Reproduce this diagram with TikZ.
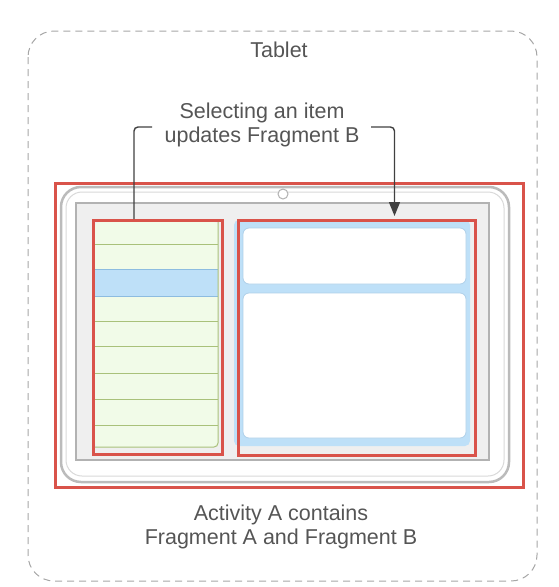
\documentclass[tikz,border=0pt]{standalone}
\usepackage{fontspec}
\setmainfont{Liberation Sans}
\usetikzlibrary{arrows.meta}
\definecolor{txtgray}{HTML}{555555}
\definecolor{redline}{HTML}{D9534A}
\definecolor{listgreen}{HTML}{F1FBE8}
\definecolor{greenline}{HTML}{A9C17A}
\definecolor{selblue}{HTML}{BEE0F8}
\definecolor{blueline}{HTML}{8DBCE0}
\definecolor{screenfill}{HTML}{EFEFEF}
\definecolor{bodyline}{HTML}{BBBBBB}
\tikzset{
  lbl/.style={text=txtgray, font=\fontsize{21.5}{24.5}\selectfont, align=center, inner sep=0pt},
  redbox/.style={draw=redline, line width=3pt},
  conn/.style={draw=black!75, line width=1.4pt, rounded corners=4pt},
}
\begin{document}
\begin{tikzpicture}[x=1pt,y=-1pt]
\useasboundingbox (0,0) rectangle (558,587);
% outer dashed container
\draw[gray!70, dashed, dash pattern=on 7pt off 5pt, line width=1pt, rounded corners=26pt] (28,31) rectangle (537,581);
\node[lbl] (tablet) at (279,50) {Tablet};
% tablet body
\draw[bodyline, fill=white, line width=2.5pt, rounded corners=20pt] (61,187) rectangle (509,482);
\draw[gray!30, line width=1pt, rounded corners=16pt] (66,192) rectangle (504,476);
\node[draw=gray!60, line width=1pt, circle, minimum size=10pt, inner sep=0pt, fill=white] (cam) at (283,194) {};
% screen
\draw[gray!60, fill=screenfill, line width=2pt] (76,203) rectangle (489,460);
% left list (fragment A)
\fill[listgreen, rounded corners=4pt] (95,222) rectangle (218,447);
\fill[selblue] (93,269) rectangle (218,296);
\foreach \yy in {244,321,346,373,399,425}{
  \draw[greenline, line width=1pt] (95,\yy) -- (218,\yy);
}
\draw[blueline, line width=1pt] (93,269) -- (218,269);
\draw[blueline, line width=1pt] (93,296) -- (218,296);
\draw[greenline, line width=1pt, rounded corners=4pt] (218,222) -- (218,447) -- (95,447);
\node[redbox, minimum width=129pt, minimum height=234pt, inner sep=0pt] (fragA) at (157.5,337.5) {};
% right panel (fragment B)
\fill[selblue, rounded corners=5pt] (234,220) rectangle (470,446);
\draw[blueline!70, line width=0.8pt, rounded corners=6pt, fill=white] (243,228) rectangle (466,284);
\draw[blueline!70, line width=0.8pt, rounded corners=6pt, fill=white] (243,293) rectangle (466,438);
\node[redbox, minimum width=237pt, minimum height=235pt, inner sep=0pt] (fragB) at (356.5,337.5) {};
% activity
\node[redbox, minimum width=468pt, minimum height=304pt, inner sep=0pt] (act) at (289,335.5) {};
% labels
\node[lbl] (sel) at (262,125) {Selecting an item\\updates Fragment B};
\node[lbl] (actlbl) at (281,527) {Activity A contains\\Fragment A and Fragment B};
% connector
\coordinate (c1) at (152,127);
\coordinate (c2) at (371,127);
\coordinate (tip) at (394.5,216);
\draw[conn] (fragA.north -| 134,0) -- (134,127) -- (c1);
\draw[conn, -{Triangle[length=14pt,width=11pt]}] (c2) -- (394.5,127) -- (tip);
\end{tikzpicture}
\end{document}
